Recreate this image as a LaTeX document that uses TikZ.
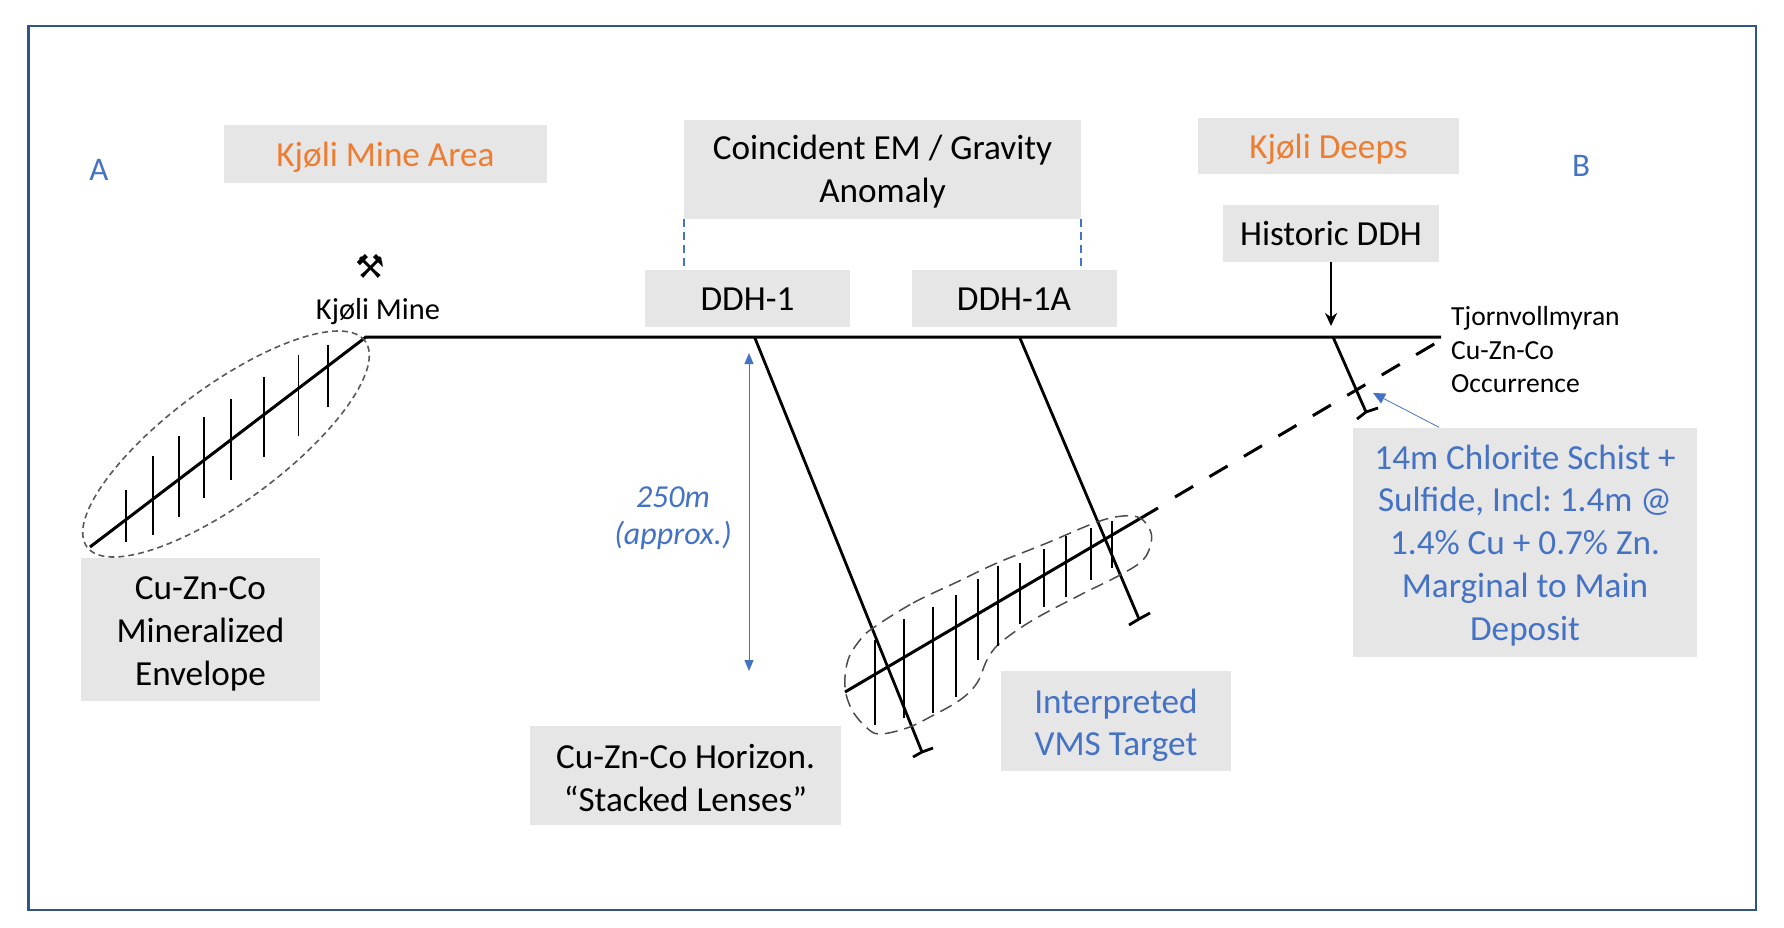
\documentclass[tikz,border=0pt]{standalone}
\usepackage{fontspec}
\setmainfont{Carlito}
\newfontfamily\symbfont{DejaVu Sans}
\usepackage{xcolor}
\usetikzlibrary{positioning,calc,shapes.geometric,arrows.meta}
\definecolor{boxgray}{HTML}{E7E6E6}
\definecolor{noteblue}{HTML}{4472C4}
\definecolor{areaorange}{HTML}{ED7D31}
\definecolor{framedark}{HTML}{2F5488}
\tikzset{
	labelbox/.style={fill=boxgray,align=center,inner sep=0pt,font=\fontsize{35.2}{42.7}\selectfont\frenchspacing,
		execute at begin node={\rule{0pt}{34pt}},execute at end node={\rule[-10pt]{0pt}{10pt}}},
	stackbox/.style={labelbox,execute at begin node={\rule{0pt}{#1}}},
	smalltext/.style={align=left,inner sep=0pt,font=\fontsize{27.6}{33.5}\selectfont},
	surface/.style={line width=3pt,black},
	hole/.style={line width=2.8pt,black},
	hachure/.style={line width=1.7pt,black},
}
\begin{document}
\begin{tikzpicture}[x=1pt,y=-1pt]
	\useasboundingbox (0,0) rectangle (1784,927);
	\draw[line width=2.5pt,framedark] (28.5,26) rectangle (1756,910);

	% boxes
	\node[labelbox,minimum width=323pt,minimum height=58pt,text=areaorange] (minearea) at (385.5,154) {Kjøli Mine Area};
	\node[stackbox=77pt,minimum width=397pt,minimum height=99pt] (anomaly) at (882.5,169) {Coincident EM / Gravity\\Anomaly};
	\node[labelbox,minimum width=261pt,minimum height=56pt,text=areaorange] (deeps) at (1328.5,146) {Kjøli Deeps};
	\node[labelbox,minimum width=216pt,minimum height=57pt] (historic) at (1331,233) {Historic DDH};
	\node[labelbox,minimum width=205pt,minimum height=57pt] (ddhone) at (747.5,298.5) {DDH-1};
	\node[labelbox,minimum width=205pt,minimum height=57pt] (ddhonea) at (1014,298.5) {DDH-1A};
	\node[stackbox=121.4pt,minimum width=239pt,minimum height=143pt] (envlabel) at (200.5,629.5) {Cu-Zn-Co\\Mineralized\\Envelope};
	\node[stackbox=81pt,minimum width=311pt,minimum height=99pt] (horizon) at (685.5,775.5) {Cu-Zn-Co Horizon.\\“Stacked Lenses”};
	\node[stackbox=79.5pt,minimum width=230pt,minimum height=100pt,text=noteblue] (vms) at (1116,721) {Interpreted\\VMS Target};
	\node[stackbox=206pt,minimum width=344pt,minimum height=229pt,text=noteblue] (note) at (1525,542) {14m Chlorite Schist +\\Sulfide, Incl: 1.4m @\\1.4\% Cu + 0.7\% Zn.\\Marginal to Main\\Deposit};

	% plain labels
	\node[font=\fontsize{33}{40}\selectfont,text=noteblue] (secA) at (99,170) {A};
	\node[font=\fontsize{33}{40}\selectfont,text=noteblue] (secB) at (1581,166) {B};
	\node[font=\fontsize{32}{37.5}\selectfont\itshape,text=noteblue,align=center,inner sep=0pt] (depth) at (673,518) {250m\\(approx.)};
	\node[font=\fontsize{30.4}{33}\selectfont,inner sep=0pt] (minename) at (378,312) {Kjøli Mine};
	\node[font=\symbfont\fontsize{33}{33}\selectfont,inner sep=0pt] (minesym) at (370,266) {⚒};
	\node[smalltext,anchor=west] (occurrence) at (1451,350) {Tjornvollmyran\\Cu-Zn-Co\\Occurrence};

	% surface and drill holes
	\coordinate (kink) at (366,337);
	\coordinate (surfend) at (1441,337);
	\coordinate (envstart) at (90,547);
	\coordinate (collarA) at (754.5,337);
	\coordinate (collarB) at (1019.5,337);
	\coordinate (collarC) at (1333,337);
	\coordinate (endA) at (922,752);
	\coordinate (endB) at (1139,619);
	\coordinate (endC) at (1366,412);
	\draw[surface] (envstart) -- (kink) -- (surfend);
	\draw[hole] (collarA) -- (endA);
	\draw[hole] (collarB) -- (endB);
	\draw[hole] (collarC) -- (endC);
	\draw[hole] (913,757) -- (endA) -- (933,748);
	\draw[hole] (1129,625) -- (endB) -- (1150,613);
	\draw[hole] (1357,419) -- (endC) -- (1378,408);

	% mineralized envelope
	\node[draw=black!65,dash pattern=on 6pt off 4pt,line width=1.6pt,ellipse,inner sep=0pt,minimum width=346pt,minimum height=116pt,rotate=36.5] (envelope) at (226,444) {};
	\foreach \x/\a/\b in {126/490/542,153/456/535,179/436/517,204/417/498,231/399/480,264/377/457,298.5/355/436,328/345/407}
		\draw[hachure] (\x,\a) -- (\x,\b);

	% target lens
	\coordinate (lensstart) at (845,692);
	\coordinate (lensend) at (1158,508);
	\coordinate (dashstart) at (1175,497);
	\coordinate (dashend) at (1441,340);
	\draw[surface] (lensstart) -- (lensend);
	\draw[surface,dash pattern=on 21pt off 19pt] (dashstart) -- (dashend);
	\draw[line width=1.5pt,black!70,dash pattern=on 13pt off 7pt] plot[smooth cycle,tension=0.6] coordinates {(873,628) (913,603) (957,582) (997,563) (1047,543) (1097,522) (1123,516) (1140,518) (1150,530) (1151,543) (1143,560) (1120,575) (1080,595) (1033,620) (1000,643) (987,660) (977,683) (960,700) (930,717) (907,728) (880,734) (867,728) (852,710) (845,687) (848,660) (860,640)};
	\foreach \x/\a/\b in {875/640/725,904/619/718,933/607/713,956/595/697,978/579/660,998/566/646,1020/563/624,1044/549/607,1066/536/597,1091/528/580,1112/521/568}
		\draw[hachure] (\x,\a) -- (\x,\b);

	% connectors
	\draw[noteblue,line width=2.2pt,dash pattern=on 8pt off 5pt] (anomaly.south west) -- (anomaly.south west |- ddhone.north);
	\draw[noteblue,line width=2.2pt,dash pattern=on 8pt off 5pt] (anomaly.south east) -- (anomaly.south east |- ddhonea.north);
	\draw[line width=2.8pt,-{Stealth[length=13pt,width=12pt]}] (historic.south) -- (1331,326);
	\coordinate (depthtop) at (749,353);
	\coordinate (depthbot) at (749,671);
	\draw[noteblue,line width=1pt,{Triangle[length=11pt,width=9pt]}-{Triangle[length=11pt,width=9pt]}] (depthtop) -- (depthbot);
	\coordinate (notetip) at (1373,393);
	\draw[noteblue,line width=0.8pt,-{Triangle[length=12pt,width=11pt]}] (note.north -| 1439,0) -- (notetip);
\end{tikzpicture}
\end{document}
